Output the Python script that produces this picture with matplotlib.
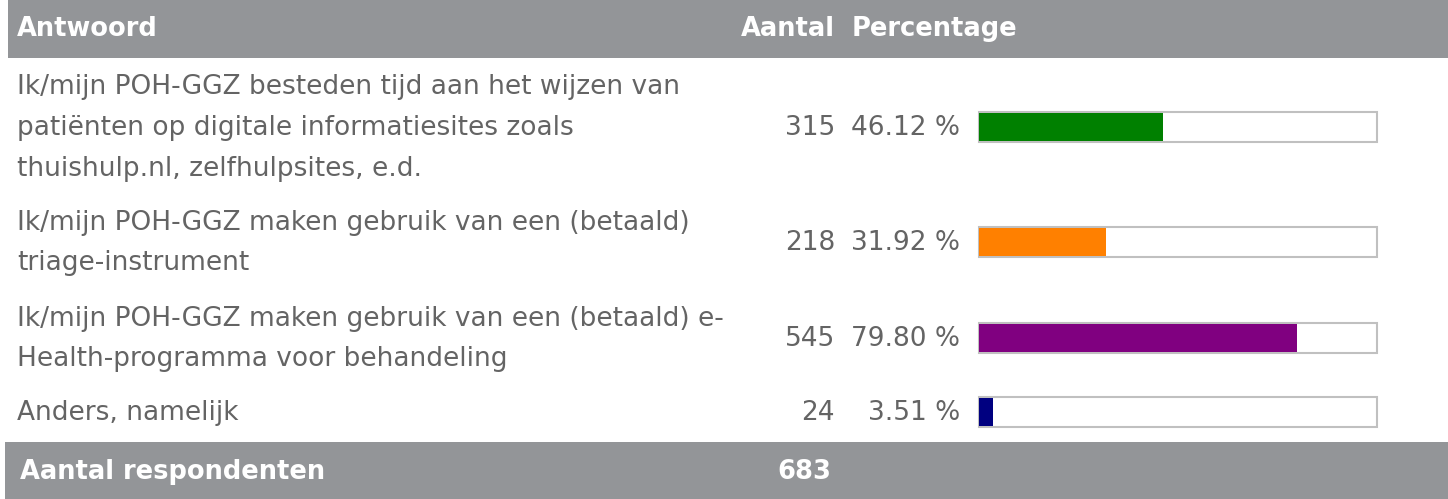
import matplotlib
matplotlib.use('Agg')
import matplotlib.pyplot as plt

answers = [
    'Ik/mijn POH-GGZ besteden tijd aan het wijzen van\npatiënten op digitale informatiesites zoals\nthuishulp.nl, zelfhulpsites, e.d.',
    'Ik/mijn POH-GGZ maken gebruik van een (betaald)\ntriage-instrument',
    'Ik/mijn POH-GGZ maken gebruik van een (betaald) e-\nHealth-programma voor behandeling',
    'Anders, namelijk',
]
counts = [315, 218, 545, 24]
percentages = [46.12, 31.92, 79.80, 3.51]
bar_colors = ['#008000', '#ff8000', '#800080', '#000080']
total_respondents = 683

W, H = 1448, 499
grey = '#939598'
text_grey = '#646464'
fs = 19
fs_bold = 18.5

fig = plt.figure(figsize=(W / 100, H / 100), dpi=100)
ax = fig.add_axes([0, 0, 1, 1])
ax.set_xlim(0, W)
ax.set_ylim(H, 0)
ax.axis('off')

# header and footer bands
ax.barh(29, W - 8, height=58, left=8, color=grey)
ax.barh(470.5, W - 5, height=57, left=5, color=grey)
ax.text(17, 29, 'Antwoord', color='white', fontsize=fs_bold, fontweight='bold', va='center')
ax.text(835, 29, 'Aantal', color='white', fontsize=fs_bold, fontweight='bold', va='center', ha='right')
ax.text(852, 29, 'Percentage', color='white', fontsize=fs_bold, fontweight='bold', va='center')
ax.text(20, 472, 'Aantal respondenten', color='white', fontsize=fs_bold, fontweight='bold', va='center')
ax.text(831, 472, str(total_respondents), color='white', fontsize=fs_bold, fontweight='bold',
        va='center', ha='right')

# answer rows
row_y = [128, 243, 339, 413]
bar_left, bar_full = 979, 398
for y, label, n, pct, c in zip(row_y, answers, counts, percentages, bar_colors):
    ax.text(17, y, label, color=text_grey, fontsize=fs, va='center', linespacing=1.73)
    ax.text(835, y, str(n), color=text_grey, fontsize=fs, va='center', ha='right')
    ax.text(960, y, f'{pct:.2f} %', color=text_grey, fontsize=fs, va='center', ha='right')
    ax.barh(y - 1, bar_full, height=30, left=bar_left, color='white', edgecolor='#c0c0c0', linewidth=1.5)
    ax.barh(y - 1, bar_full * pct / 100, height=28, left=bar_left, color=c)

fig.savefig('out.png', dpi=100)
